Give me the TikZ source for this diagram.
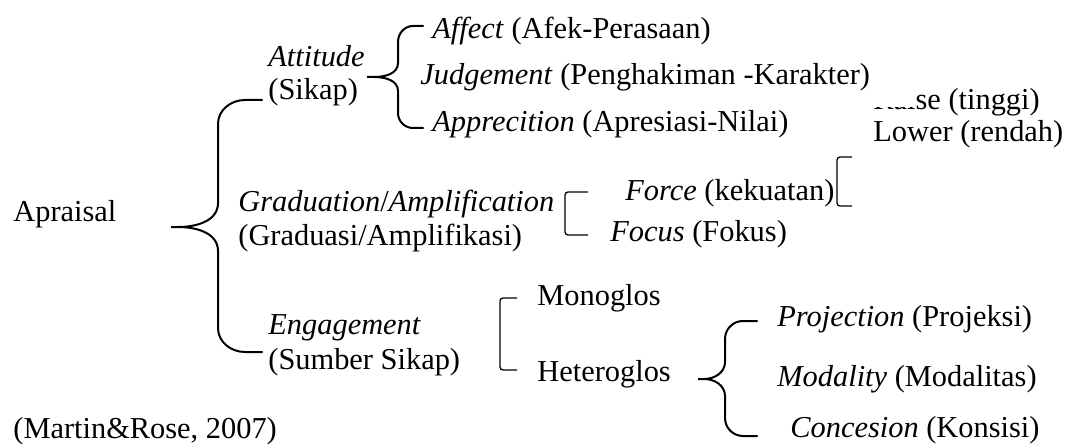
\documentclass[tikz,border=0pt]{standalone}
\usepackage{fontspec}
\setmainfont{Liberation Serif}
\begin{document}
\begin{tikzpicture}[x=0.5pt,y=-0.5pt,
  lbl/.style={anchor=base west, inner sep=0pt, font=\fontsize{15.2pt}{17pt}\selectfont},
  curly/.style={line width=1pt, line cap=round},
  squareb/.style={line width=0.65pt, rounded corners=1.5pt}]
\useasboundingbox[fill=white] (0,0) rectangle (1071,444);
% texts
\node[lbl] (apr) at (13,221) {Apraisal};
\node[lbl] (src) at (13,438) {(Martin\&Rose, 2007)};
\node[lbl] (att) at (268,67) {\textit{Attitude}};
\node[lbl] (attb) at (268,100) {(Sikap)};
\node[lbl] (gra) at (238,211) {\textit{Graduation}/\textit{Amplification}};
\node[lbl] (grab) at (238,245) {(Graduasi/Amplifikasi)};
\node[lbl] (eng) at (268,334) {\textit{Engagement}};
\node[lbl] (engb) at (268,369) {(Sumber Sikap)};
\node[lbl] (aff) at (432,39) {\textit{Affect} (Afek-Perasaan)};
\node[lbl] (jud) at (420,85) {\textit{Judgement} (Penghakiman -Karakter)};
\node[lbl] (app) at (432,132) {\textit{Apprecition} (Apresiasi-Nilai)};
\node[lbl] (rai) at (873,110) {Raise (tinggi)};
\node[lbl] (low) at (873,141) {Lower (rendah)};
\node[lbl] (for) at (625,200) {\textit{Force} (kekuatan)};
\node[lbl] (foc) at (610,242) {\textit{Focus} (Fokus)};
\node[lbl] (mon) at (537,305) {Monoglos};
\node[lbl] (het) at (537,381) {Heteroglos};
\node[lbl] (pro) at (777,326) {\textit{Projection} (Projeksi)};
\node[lbl] (mod) at (777,386) {\textit{Modality} (Modalitas)};
\node[lbl] (con) at (790,437) {\textit{Concesion} (Konsisi)};
% occluding patch over the top of "Rai"
\fill[white] (872,84) rectangle (913,107);
% Apraisal brace
\draw[curly] (262,100) -- (245,100) to[out=180,in=90] (218,124) -- (218,203)
  to[out=-90,in=0] (178,227) -- (171,227) -- (178,227)
  to[out=0,in=90] (218,251) -- (218,328) to[out=-90,in=180] (245,352) -- (262,352);
% Attitude brace
\draw[curly] (423,26) -- (413,26) to[out=180,in=90] (398,42) -- (398,63)
  to[out=-90,in=0] (374,77) -- (367,77) -- (374,77)
  to[out=0,in=90] (398,91) -- (398,113) to[out=-90,in=180] (413,128) -- (423,128);
% Heteroglos brace
\draw[curly] (757,321) -- (743,321) to[out=180,in=90] (725,339) -- (725,362)
  to[out=-90,in=0] (704,379) -- (698,379) -- (704,379)
  to[out=0,in=90] (725,396) -- (725,418) to[out=-90,in=180] (743,436) -- (757,436);
% square brackets
\draw[squareb] (588,192) -- (565,192) -- (565,235) -- (588,235);
\draw[squareb] (852,157) -- (837,157) -- (837,206) -- (852,206);
\draw[squareb] (517,298) -- (500,298) -- (500,370) -- (517,370);
\end{tikzpicture}
\end{document}
